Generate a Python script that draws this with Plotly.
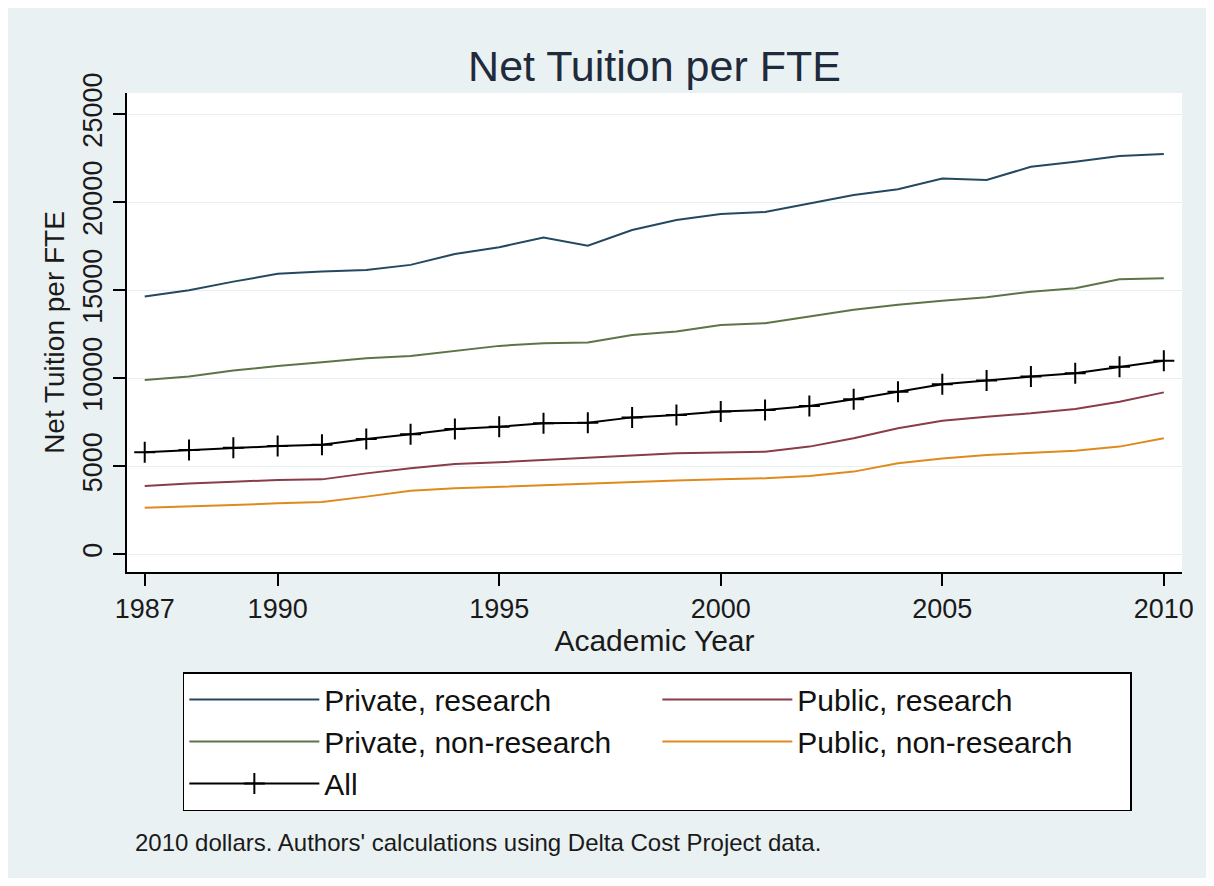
import plotly.graph_objects as go

years = list(range(1987, 2011))
private_research = [14640, 15000, 15490, 15930, 16060, 16150, 16440, 17060, 17440, 18000, 17530, 18420,
                    18990, 19330, 19440, 19930, 20410, 20730, 21350, 21260, 22010, 22300, 22620, 22730]
private_nonresearch = [9900, 10100, 10440, 10700, 10910, 11140, 11270, 11570, 11840, 11990, 12030, 12460,
                       12660, 13030, 13130, 13510, 13890, 14170, 14410, 14600, 14920, 15110, 15620, 15680]
public_research = [3880, 4030, 4130, 4220, 4260, 4600, 4890, 5130, 5230, 5360, 5510, 5640,
                   5740, 5780, 5830, 6120, 6590, 7160, 7590, 7820, 8010, 8260, 8670, 9200]
public_nonresearch = [2650, 2710, 2800, 2900, 2970, 3280, 3620, 3750, 3840, 3940, 4030, 4130,
                      4190, 4260, 4320, 4450, 4700, 5170, 5450, 5640, 5780, 5890, 6120, 6590]
all_inst = [5800, 5930, 6060, 6150, 6230, 6550, 6820, 7120, 7250, 7440, 7480, 7780,
            7920, 8110, 8200, 8430, 8810, 9240, 9660, 9870, 10100, 10280, 10660, 11000]

x_ticks = [1987, 1990, 1995, 2000, 2005, 2010]
y_ticks = [0, 5000, 10000, 15000, 20000, 25000]

FONT = "Liberation Sans, Arial, Helvetica, sans-serif"
BG = "#eaf1f2"

# page body has an 8px margin; figure sized to fit inside the window
W, H = 1198, 870
L, R, T, B = 119, 1177, 85, 564
PW, PH = R - L, B - T

def px(xp):
    return (xp - 8 - L) / PW

def py(yp):
    return (B - (yp - 8)) / PH

fig = go.Figure()
series = [
    ("Private, research", private_research, "#24485f"),
    ("Public, research", public_research, "#8a3c48"),
    ("Private, non-research", private_nonresearch, "#5d7448"),
    ("Public, non-research", public_nonresearch, "#e08a1e"),
]
for name, vals, col in series:
    fig.add_trace(go.Scatter(x=years, y=vals, name=name, mode="lines",
                             line=dict(color=col, width=2)))
fig.add_trace(go.Scatter(x=years, y=all_inst, name="All", mode="lines+markers",
                         line=dict(color="black", width=2),
                         marker=dict(symbol="cross-thin", size=15, color="black",
                                     line=dict(color="black", width=2))))

fig.update_layout(
    width=W, height=H,
    paper_bgcolor=BG, plot_bgcolor="white",
    margin=dict(l=L, r=W - R, t=T, b=H - B),
    font=dict(family=FONT, color="#1a1a1a"),
    title=dict(text="Net Tuition per FTE", x=0.5, xref="paper", xanchor="center",
               y=1 - (66 - 8) / H, yanchor="middle",
               font=dict(size=43, family=FONT, color="#1f2a3a")),
    showlegend=True,
    legend=dict(orientation="h", x=px(183), xanchor="left", y=py(672), yanchor="top",
                bgcolor="white", bordercolor="black", borderwidth=1.5,
                font=dict(size=30, family=FONT, color="#111"),
                entrywidth=328, itemwidth=130, traceorder="normal"),
    xaxis=dict(range=[1986.6, 2010.41], tickvals=x_ticks, showgrid=False, zeroline=False,
               showline=True, linecolor="black", linewidth=1.5, mirror=False,
               ticks="outside", ticklen=12, tickwidth=1.5, tickcolor="black",
               tickfont=dict(size=27, family=FONT, color="#1a1a1a"),
               title=dict(text="Academic Year", font=dict(size=30, family=FONT, color="#1a1a1a"),
                          standoff=4)),
    yaxis=dict(range=[-1000, 26200], tickvals=y_ticks, tickformat="d", tickangle=-90,
               showgrid=True, gridcolor="#e6eef0", gridwidth=1, zeroline=False,
               showline=True, linecolor="black", linewidth=1.5,
               ticks="outside", ticklen=12, tickwidth=1.5, tickcolor="black",
               tickfont=dict(size=27, family=FONT, color="#1a1a1a"),
               title=dict(text="Net Tuition per FTE", font=dict(size=28, family=FONT, color="#1a1a1a"),
                          standoff=6)),
)

fig.add_annotation(text="2010 dollars. Authors' calculations using Delta Cost Project data.",
                   xref="paper", yref="paper", x=px(133), y=py(842),
                   xanchor="left", yanchor="middle", showarrow=False,
                   font=dict(size=24, family=FONT, color="#1a1a1a"))

fig.write_html("out.html")
